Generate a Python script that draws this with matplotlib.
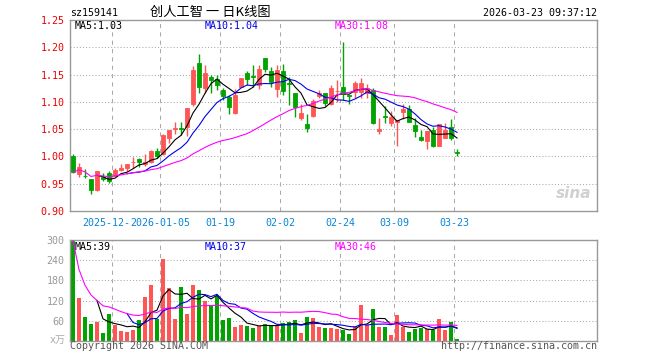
import matplotlib
matplotlib.use("Agg")
import matplotlib.pyplot as plt
import numpy as np
import pandas as pd

# daily OHLC (oldest first, last one is 03-23)
opens = [1.000, 0.968, 0.965, 0.959, 0.938, 0.963, 0.969, 0.965, 0.975, 0.979,
         0.989, 0.995, 0.987, 0.990, 1.010, 1.004, 1.033, 1.051, 1.052, 1.054,
         1.096, 1.171, 1.125, 1.146, 1.142, 1.122, 1.108, 1.079, 1.128, 1.153,
         1.148, 1.130, 1.181, 1.156, 1.123, 1.157, 1.135, 1.116, 1.071, 1.059,
         1.074, 1.111, 1.117, 1.096, 1.119, 1.127, 1.112, 1.118, 1.118, 1.117,
         1.121, 1.047, 1.074, 1.061, 1.063, 1.081, 1.086, 1.058, 1.036, 1.028,
         1.049, 1.020, 1.034, 1.054, 1.008]
highs = [1.005, 0.988, 0.977, 0.959, 0.974, 0.969, 0.973, 0.979, 0.987, 0.987,
         0.999, 0.998, 1.005, 1.011, 1.015, 1.042, 1.049, 1.064, 1.064, 1.089,
         1.166, 1.187, 1.167, 1.150, 1.150, 1.125, 1.113, 1.124, 1.144, 1.156,
         1.167, 1.167, 1.181, 1.163, 1.167, 1.170, 1.145, 1.116, 1.096, 1.078,
         1.105, 1.122, 1.117, 1.130, 1.140, 1.209, 1.113, 1.138, 1.144, 1.132,
         1.125, 1.071, 1.092, 1.084, 1.066, 1.096, 1.095, 1.070, 1.048, 1.046,
         1.054, 1.060, 1.062, 1.068, 1.013]
lows = [0.970, 0.962, 0.960, 0.932, 0.936, 0.955, 0.952, 0.964, 0.973, 0.973,
        0.979, 0.981, 0.982, 0.988, 0.998, 1.002, 1.025, 1.041, 1.040, 1.037,
        1.093, 1.117, 1.117, 1.117, 1.121, 1.103, 1.077, 1.077, 1.128, 1.130,
        1.128, 1.123, 1.155, 1.128, 1.109, 1.113, 1.095, 1.073, 1.067, 1.045,
        1.073, 1.107, 1.092, 1.094, 1.100, 1.103, 1.096, 1.107, 1.107, 1.107,
        1.060, 1.042, 1.061, 1.056, 1.019, 1.068, 1.063, 1.035, 1.029, 1.014,
        1.018, 1.019, 1.034, 1.030, 1.001]
closes = [0.971, 0.980, 0.964, 0.938, 0.974, 0.958, 0.955, 0.976, 0.979, 0.987,
          0.990, 0.990, 0.989, 1.010, 1.001, 1.040, 1.048, 1.053, 1.051, 1.088,
          1.158, 1.128, 1.153, 1.140, 1.130, 1.110, 1.090, 1.113, 1.144, 1.142,
          1.145, 1.161, 1.161, 1.136, 1.159, 1.119, 1.133, 1.090, 1.079, 1.052,
          1.102, 1.117, 1.098, 1.126, 1.120, 1.115, 1.110, 1.134, 1.135, 1.125,
          1.062, 1.050, 1.073, 1.072, 1.066, 1.086, 1.064, 1.046, 1.031, 1.046,
          1.019, 1.060, 1.049, 1.034, 1.007]
# volume, in 万
volumes = [298, 127, 72, 50, 55, 25, 81, 47, 31, 28,
           34, 61, 132, 166, 65, 245, 158, 65, 160, 81,
           166, 151, 120, 107, 135, 61, 67, 43, 49, 46,
           40, 46, 51, 46, 46, 52, 56, 62, 25, 72,
           68, 41, 38, 38, 35, 32, 22, 44, 106, 49,
           94, 42, 42, 18, 78, 42, 26, 36, 38, 35,
           34, 66, 33, 56, 7]

tick_idx = [7, 15, 25, 35, 45, 54, 64]
tick_labels = ["2025-12-22", "2026-01-05", "01-19", "02-02", "02-24", "03-09", "03-23"]

RED = "#ff5555"
GREEN = "#00a300"
MONO = "DejaVu Sans Mono"
FS = 7.2

df = pd.DataFrame({"o": opens, "h": highs, "l": lows, "c": closes, "v": volumes})
x = np.arange(len(df))
up = df.c >= df.o
cols = np.where(up, RED, GREEN)

ma5 = df.c.rolling(5).mean()
ma10 = df.c.rolling(10).mean()
ma30 = df.c.rolling(30, min_periods=1).mean()
vma5 = df.v.rolling(5).mean()
vma10 = df.v.rolling(10).mean()
vma30 = df.v.rolling(30, min_periods=1).mean()

W, H = 660, 360
fig = plt.figure(figsize=(W / 100, H / 100), dpi=100)


def fx(px):
    return px / W


def fy(py):
    return 1 - py / H


ax = fig.add_axes([fx(70), fy(211), fx(597 - 70), fy(20) - fy(211)])
axv = fig.add_axes([fx(70), fy(341), fx(597 - 70), fy(240) - fy(341)])

xmax = (597 - 73) / 6
for a in (ax, axv):
    a.set_xlim(-0.5, xmax)
    for s in a.spines.values():
        s.set_color("#999999")
        s.set_linewidth(1)
    a.tick_params(length=0)
    for t in tick_idx:
        a.axvline(t - 0.5, color="#aaaaaa", lw=0.75, ls=(0, (4, 4)), zorder=0)

# price panel
for lvl in [0.95, 1.00, 1.05, 1.10, 1.15, 1.20]:
    ax.axhline(lvl, color="#aaaaaa", lw=0.75, ls=(0, (1, 2)), zorder=0)
ax.vlines(x, df.l, df.h, colors=cols, lw=1, zorder=2)
ax.bar(x, (df.c - df.o).abs(), bottom=np.minimum(df.o, df.c), width=0.8,
       color=cols, edgecolor=cols, linewidth=0.6, zorder=3)
ax.plot(x, ma5, color="black", lw=0.8, zorder=4)
ax.plot(x, ma10, color="#0000ee", lw=0.8, zorder=4)
ax.plot(x, ma30, color="#ff00ff", lw=0.8, zorder=4)
ax.set_ylim(0.90, 1.25)
ax.set_yticks(np.arange(0.90, 1.2501, 0.05))
ax.set_yticklabels([f"{v:.2f}" for v in np.arange(0.90, 1.2501, 0.05)],
                   family=MONO, fontsize=FS, color="#ee0000")
ax.tick_params(axis="y", pad=4)
ax.set_xticks([t - 0.5 for t in tick_idx])
ax.set_xticklabels(tick_labels, family=MONO, fontsize=FS, color="#0a84d6")
ax.tick_params(axis="x", pad=5)
for lab in ax.get_xticklabels():
    lab.set_bbox(dict(facecolor="white", edgecolor="none", pad=0))

ax.text(0.99, 0.05, "sina", transform=ax.transAxes, ha="right", va="bottom",
        fontsize=11, fontweight="bold", style="italic", color="#d0d0d0",
        family="DejaVu Sans", zorder=1)

# volume panel
for lvl in [60, 120, 180, 240]:
    axv.axhline(lvl, color="#aaaaaa", lw=0.75, ls=(0, (1, 2)), zorder=0)
axv.bar(x, df.v, width=0.8, color=cols, linewidth=0, zorder=2)
axv.plot(x, vma5, color="black", lw=0.8, zorder=4)
axv.plot(x, vma10, color="#0000ee", lw=0.8, zorder=4)
axv.plot(x, vma30, color="#ff00ff", lw=0.8, zorder=4)
axv.set_ylim(0, 300)
axv.set_yticks([60, 120, 180, 240, 300])
axv.set_yticklabels(["60", "120", "180", "240", "300"], family=MONO,
                    fontsize=FS, color="#999999")
axv.tick_params(axis="y", pad=4)
axv.set_xticks([])

# header / legends
fig.text(fx(70), fy(13), "sz159141", family=MONO, fontsize=FS, va="center")
fig.text(fx(150), fy(12), "创人工智 一 日K线图", family=["Noto Sans CJK SC", "DejaVu Sans"],
         fontsize=9.5, va="center")
fig.text(fx(597), fy(13), "2026-03-23 09:37:12", family=MONO, fontsize=FS,
         va="center", ha="right")
fig.text(fx(75), fy(26), f"MA5:{ma5.iloc[-1]:.2f}", family=MONO, fontsize=FS,
         va="center", color="black")
fig.text(fx(205), fy(26), f"MA10:{ma10.iloc[-1]:.2f}", family=MONO, fontsize=FS,
         va="center", color="#0000ee")
fig.text(fx(335), fy(26), f"MA30:{ma30.iloc[-1]:.2f}", family=MONO, fontsize=FS,
         va="center", color="#ff00ff")
fig.text(fx(75), fy(247), f"MA5:{vma5.iloc[-1]:.0f}", family=MONO, fontsize=FS,
         va="center", color="black")
fig.text(fx(205), fy(247), f"MA10:{vma10.iloc[-1]:.0f}", family=MONO, fontsize=FS,
         va="center", color="#0000ee")
fig.text(fx(335), fy(247), f"MA30:{vma30.iloc[-1]:.0f}", family=MONO, fontsize=FS,
         va="center", color="#ff00ff")
fig.text(fx(66), fy(340), "x万", family=["DejaVu Sans Mono", "Noto Sans CJK SC"],
         fontsize=FS, va="center", ha="right", color="#aaaaaa")
fig.text(fx(70), fy(346), "Copyright 2026 SINA.COM", family=MONO, fontsize=FS,
         va="center", color="#555555")
fig.text(fx(597), fy(346), "http://finance.sina.com.cn", family=MONO, fontsize=FS,
         va="center", ha="right", color="#555555")

fig.savefig("out.png", dpi=100)
